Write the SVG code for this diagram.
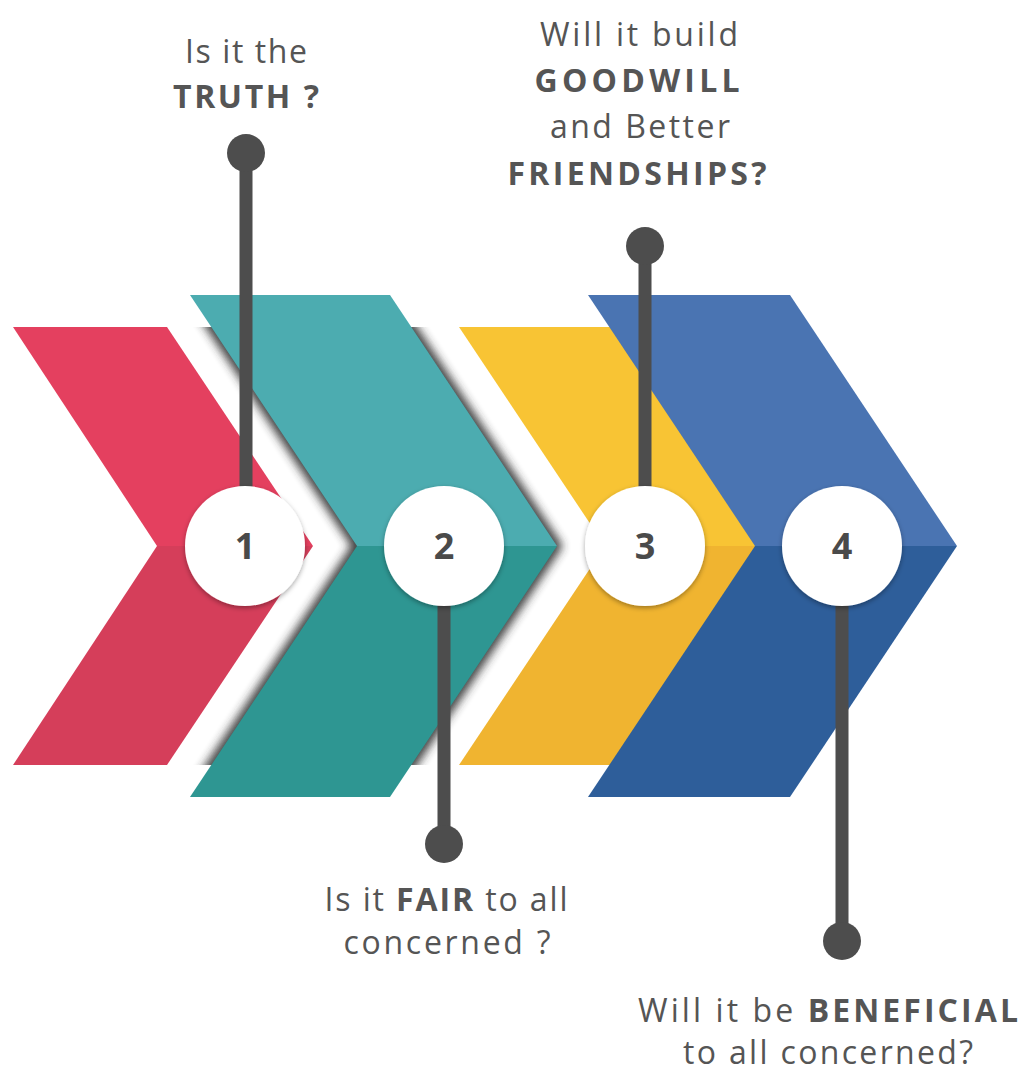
<svg xmlns="http://www.w3.org/2000/svg" width="1021" height="1071" viewBox="0 0 1021 1071">
  <defs>
    <filter id="halo" x="-20%" y="-20%" width="140%" height="140%">
      <feGaussianBlur stdDeviation="5"/>
    </filter>
    <filter id="cshadow" x="-30%" y="-30%" width="160%" height="160%">
      <feDropShadow dx="0" dy="2" stdDeviation="2.5" flood-color="#000" flood-opacity="0.35"/>
    </filter>
    <clipPath id="band">
      <rect x="0" y="327" width="1021" height="438"/>
    </clipPath>
    <style>
      .txt { font-family: "Open Sans", "Liberation Sans", sans-serif; font-size: 32px; fill: #555555; text-anchor: middle; }
      .b { font-weight: 700; }
      .num { font-family: "Open Sans", "Liberation Sans", sans-serif; font-size: 36px; font-weight: 700; fill: #4a4a4a; text-anchor: middle; }
      .stem { stroke: #4d4d4d; stroke-width: 13; fill: none; }
      .dot { fill: #4d4d4d; }
      .circ { fill: #ffffff; filter: url(#cshadow); }
    </style>
  </defs>
  <rect width="1021" height="1071" fill="#ffffff"/>

  <g id="chevron-red">
    <polygon points="13,327 167,327 313,546 157,546" fill="#e4405f"/>
    <polygon points="157,546 313,546 167,765 13,765" fill="#d53e5a"/>
  </g>
  <g id="chevron-yellow">
    <polygon points="459,327 613,327 759,546 605,546" fill="#f8c434"/>
    <polygon points="605,546 759,546 613,765 459,765" fill="#f0b430"/>
  </g>
  <g id="chevron-teal">
    <g clip-path="url(#band)">
      <polygon points="190,295 390,295 557,546 390,797 190,797 357,546" fill="#2e2e2e" stroke="#2e2e2e" stroke-width="10" stroke-linejoin="round" filter="url(#halo)" opacity="0.9"/>
    </g>
    <polygon points="190,295 390,295 557,546 357,546" fill="#4cacb0"/>
    <polygon points="357,546 557,546 390,797 190,797" fill="#2e9692"/>
  </g>
  <g id="chevron-blue">
    <polygon points="588,295 790,295 957,546 755,546" fill="#4a74b2"/>
    <polygon points="755,546 957,546 790,797 588,797" fill="#2e5e9a"/>
  </g>

  <g id="connectors">
    <line class="stem" x1="246" y1="153" x2="246" y2="500"/>
    <circle class="dot" cx="246" cy="153" r="19"/>
    <line class="stem" x1="444" y1="590" x2="444" y2="844"/>
    <circle class="dot" cx="444" cy="844" r="19"/>
    <line class="stem" x1="645" y1="246" x2="645" y2="500"/>
    <circle class="dot" cx="645" cy="246" r="19"/>
    <line class="stem" x1="842" y1="590" x2="842" y2="941"/>
    <circle class="dot" cx="842" cy="941" r="19"/>
  </g>

  <g id="node-1">
    <circle class="circ" cx="245" cy="546" r="60"/>
    <text class="num" x="245" y="559">1</text>
    <text class="txt" x="246" y="63" textLength="122" lengthAdjust="spacing">Is it the</text>
    <text class="txt b" x="246" y="108" textLength="146" lengthAdjust="spacing">TRUTH ?</text>
  </g>
  <g id="node-2">
    <circle class="circ" cx="444" cy="546" r="60"/>
    <text class="num" x="444" y="559">2</text>
    <text class="txt" x="446" y="911" textLength="243" lengthAdjust="spacing">Is it <tspan class="b">FAIR</tspan> to all</text>
    <text class="txt" x="447" y="954" textLength="207" lengthAdjust="spacing">concerned ?</text>
  </g>
  <g id="node-3">
    <circle class="circ" cx="645" cy="546" r="60"/>
    <text class="num" x="645" y="559">3</text>
    <text class="txt" x="639" y="46" textLength="198" lengthAdjust="spacing">Will it build</text>
    <text class="txt b" x="637" y="92" textLength="205" lengthAdjust="spacing">GOODWILL</text>
    <text class="txt" x="640" y="138" textLength="180" lengthAdjust="spacing">and Better</text>
    <text class="txt b" x="637" y="185" textLength="259" lengthAdjust="spacing">FRIENDSHIPS?</text>
  </g>
  <g id="node-4">
    <circle class="circ" cx="842" cy="546" r="60"/>
    <text class="num" x="842" y="559">4</text>
    <text class="txt" x="828" y="1022" textLength="380" lengthAdjust="spacing">Will it be <tspan class="b">BENEFICIAL</tspan></text>
    <text class="txt" x="828" y="1064" textLength="290" lengthAdjust="spacing">to all concerned?</text>
  </g>
</svg>
